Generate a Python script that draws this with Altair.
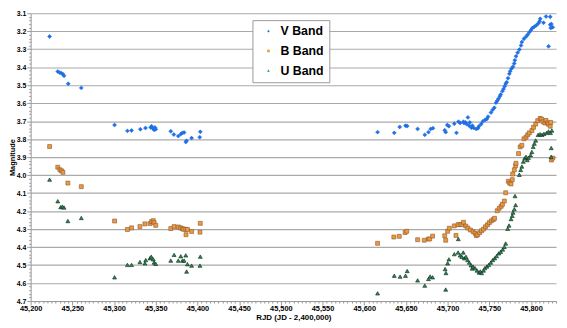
import altair as alt
import pandas as pd

# ---- data ----
v_x = [45222.7, 45232.5, 45234.8, 45236.8, 45238.7, 45240, 45245, 45260.7,
       45300.6, 45316, 45321, 45331.5, 45337.7, 45344, 45345, 45347, 45348, 45349, 45350,
       45368, 45371.7, 45377, 45380, 45382, 45384, 45386, 45387, 45393, 45402.7, 45403.4,
       45616, 45636, 45642.5, 45649.5, 45651.5, 45664, 45672.6, 45677, 45679.7, 45682.4,
       45696.5, 45697.7, 45699.6, 45701.5, 45708, 45710.6, 45713, 45715, 45719, 45719.5,
       45721.5, 45722.7, 45724.3, 45725.8, 45726.6, 45728.5, 45729.7, 45731.3, 45734.4,
       45736.4, 45737.6, 45740.3, 45742.3, 45745, 45747, 45748.5, 45752, 45754, 45756,
       45758, 45759.5, 45761, 45762.6, 45763.7, 45765.7, 45767, 45768.4, 45769.6, 45770.8,
       45772.4, 45774, 45775, 45776.6, 45778.3, 45779.8, 45780.6, 45782, 45784, 45786,
       45788, 45789, 45791.5, 45794, 45796, 45798, 45800, 45801.7, 45804, 45806.4,
       45808.8, 45810.3, 45811, 45815, 45818, 45821, 45823, 45823.6, 45824.4, 45826, 45823]
v_y = [3.229, 3.424, 3.430, 3.433, 3.439, 3.448, 3.492, 3.515,
       3.721, 3.754, 3.752, 3.745, 3.738, 3.735, 3.728, 3.742, 3.748, 3.735, 3.745,
       3.756, 3.774, 3.783, 3.772, 3.765, 3.763, 3.816, 3.809, 3.794, 3.789, 3.759,
       3.761, 3.765, 3.732, 3.725, 3.727, 3.743, 3.776, 3.761, 3.743, 3.739,
       3.750, 3.761, 3.721, 3.728, 3.714, 3.765, 3.703, 3.710, 3.703, 3.710,
       3.707, 3.716, 3.679, 3.725, 3.707, 3.736, 3.725, 3.738, 3.743,
       3.739, 3.728, 3.716, 3.701, 3.692, 3.688, 3.675, 3.652, 3.637, 3.625,
       3.597, 3.586, 3.575, 3.561, 3.552, 3.533, 3.521, 3.506, 3.492, 3.483,
       3.461, 3.437, 3.422, 3.408, 3.397, 3.379, 3.361, 3.339, 3.319, 3.302,
       3.279, 3.260, 3.242, 3.230, 3.219, 3.205, 3.193, 3.182, 3.175, 3.167,
       3.156, 3.145, 3.131, 3.153, 3.118, 3.284, 3.120, 3.182, 3.160, 3.178, 3.164]

b_x = [45222.7, 45232.5, 45235, 45237, 45238.7, 45244.6, 45260.7,
       45300.6, 45316, 45321, 45331, 45337, 45343, 45345, 45347, 45348, 45350,
       45368, 45372, 45377, 45380, 45382, 45383.5, 45386, 45388, 45386.3, 45393, 45403, 45403.4,
       45616, 45635.5, 45642, 45649, 45651, 45664, 45672, 45677, 45678.5, 45682,
       45696.5, 45697.7, 45700, 45702, 45708, 45710, 45712.5, 45715, 45717, 45719,
       45721.8, 45724.2, 45727.3, 45730.5, 45732.9, 45734.4, 45736, 45738.4, 45740.7,
       45743, 45745.4, 45747.8, 45750, 45752.5, 45754.8, 45756.3, 45759.5, 45761.8,
       45764.2, 45765.7, 45768, 45769.6, 45772.8, 45774.4, 45776, 45777.5, 45778,
       45780, 45781.5, 45782, 45785, 45787, 45789, 45791.5, 45794, 45796, 45798,
       45801, 45803, 45805.6, 45808, 45811, 45812.7, 45814.3, 45816.6, 45818,
       45819.7, 45821, 45823, 45824.4, 45823.6, 45826]
b_y = [3.841, 3.956, 3.970, 3.976, 3.984, 4.044, 4.064,
       4.255, 4.302, 4.293, 4.286, 4.271, 4.269, 4.258, 4.253, 4.264, 4.279,
       4.297, 4.286, 4.288, 4.293, 4.298, 4.301, 4.301, 4.302, 4.331, 4.313, 4.317, 4.268,
       4.379, 4.344, 4.340, 4.319, 4.312, 4.359, 4.362, 4.355, 4.355, 4.339,
       4.337, 4.362, 4.312, 4.295, 4.282, 4.335, 4.275, 4.275, 4.275, 4.262,
       4.283, 4.294, 4.305, 4.314, 4.323, 4.336, 4.331, 4.320, 4.309,
       4.300, 4.287, 4.276, 4.264, 4.254, 4.247, 4.240, 4.198, 4.184,
       4.173, 4.162, 4.144, 4.098, 4.034, 4.044, 4.049, 4.025, 3.994,
       3.970, 3.947, 3.934, 3.880, 3.843, 3.834, 3.798, 3.789, 3.776, 3.765,
       3.752, 3.734, 3.716, 3.697, 3.685, 3.689, 3.703, 3.710, 3.696,
       3.710, 3.717, 3.728, 3.916, 3.707, 3.905]

u_x = [45222.7, 45232.5, 45236, 45238, 45240, 45244.6, 45260.7,
       45300.6, 45316, 45321, 45331, 45337, 45338, 45343, 45344.6, 45347, 45348, 45350,
       45368, 45372, 45377, 45380, 45382, 45384, 45386, 45388, 45387, 45393, 45403, 45403.4,
       45616, 45636, 45643, 45649.5, 45651.5, 45664, 45672.6, 45677, 45679, 45682,
       45697, 45698, 45697.7, 45700, 45701.5, 45708, 45712.5, 45715, 45717, 45718.7,
       45720, 45722, 45724, 45726, 45728, 45729.5, 45712.8,
       45730.5, 45732.9, 45735.2, 45737.6, 45739.2, 45740.7, 45743, 45744.6, 45747,
       45749.3, 45751.7, 45754, 45756.4, 45758.7, 45761.2, 45763.6, 45766, 45768,
       45769.6, 45772, 45773.6, 45776, 45777.5, 45778.4, 45780, 45781.5, 45780.8,
       45786, 45787.6, 45789, 45790.7, 45792.4, 45794, 45795.5, 45797, 45799.5, 45801,
       45802.6, 45804, 45805.6, 45808.5, 45810.8, 45813.2, 45815.5, 45818.6, 45821,
       45823.3, 45825, 45824.2, 45824.2]
u_y = [4.025, 4.145, 4.178, 4.175, 4.180, 4.255, 4.238,
       4.568, 4.499, 4.499, 4.483, 4.490, 4.472, 4.462, 4.453, 4.468, 4.486, 4.493,
       4.475, 4.443, 4.475, 4.451, 4.475, 4.475, 4.446, 4.495, 4.536, 4.503, 4.503, 4.453,
       4.657, 4.559, 4.564, 4.559, 4.533, 4.585, 4.614, 4.577, 4.563, 4.568,
       4.522, 4.544, 4.636, 4.490, 4.468, 4.439, 4.430, 4.446, 4.454, 4.430,
       4.462, 4.454, 4.472, 4.486, 4.501, 4.519, 4.355,
       4.508, 4.517, 4.530, 4.541, 4.535, 4.544, 4.530, 4.517, 4.508,
       4.499, 4.486, 4.472, 4.462, 4.450, 4.435, 4.426, 4.413, 4.399,
       4.380, 4.298, 4.280, 4.244, 4.226, 4.208, 4.189, 4.166, 4.116,
       3.998, 3.971, 3.952, 3.925, 3.907, 3.898, 3.916, 3.903, 3.889, 3.871,
       3.843, 3.825, 3.807, 3.776, 3.772, 3.776, 3.770, 3.765, 3.757,
       3.765, 3.752, 3.849, 3.898]

bands = ["V Band", "B Band", "U Band"]
fills = ["#1f6fe5", "#ec9a3c", "#2c8a55"]
strokes = ["#1f6fe5", "#8a5530", "#0b2616"]
shapes = ["diamond", "square", "triangle-up"]

x_minor = list(range(45200, 45831, 5))
y_minor = [round(3.1 + 0.02 * i, 2) for i in range(81)]

rows = []
for name, xs, ys in [("V Band", v_x, v_y), ("B Band", b_x, b_y), ("U Band", u_x, u_y)]:
    for a, b in zip(xs, ys):
        rows.append({"rjd": a, "mag": b, "band": name})
df = pd.DataFrame(rows)

ymaj = "abs(datum.value*10 - round(datum.value*10)) < 0.001"
xmaj = "datum.value % 50 == 0"

leg = dict(title=None, orient="none", legendX=225, legendY=7, symbolSize=7,
           symbolStrokeWidth=0)

chart = alt.Chart(df).mark_point(filled=True, strokeWidth=0.6, opacity=1).encode(
    x=alt.X("rjd:Q",
            scale=alt.Scale(domain=[45200, 45830], nice=False, zero=False),
            axis=alt.Axis(values=x_minor, grid=False, title="RJD (JD - 2,400,000)",
                          labelExpr=f"{xmaj} ? format(datum.value, ',') : ''",
                          labelOverlap=False, labelFlush=False,
                          tickSize={"condition": {"test": xmaj, "value": 4}, "value": 2},
                          labelPadding=0, titlePadding=1)),
    y=alt.Y("mag:Q",
            scale=alt.Scale(domain=[3.1, 4.7], reverse=True, nice=False, zero=False),
            axis=alt.Axis(values=y_minor, title="Magnitude",
                          labelExpr=f"{ymaj} ? format(datum.value, '.1f') : ''",
                          labelOverlap=False,
                          gridOpacity={"condition": {"test": ymaj, "value": 1}, "value": 0},
                          tickSize={"condition": {"test": ymaj, "value": 4}, "value": 2},
                          labelPadding=1, titleX=-18, titleY=146, titleAngle=270,
                          titleBaseline="middle", titleAlign="center")),
    color=alt.Color("band:N", scale=alt.Scale(domain=bands, range=fills),
                    legend=alt.Legend(**leg)),
    shape=alt.Shape("band:N", scale=alt.Scale(domain=bands, range=shapes),
                    legend=alt.Legend(**leg)),
    stroke=alt.Stroke("band:N", scale=alt.Scale(domain=bands, range=strokes), legend=None),
    size=alt.value(16),
).properties(
    width=533, height=292,
    padding={"left": 23, "top": 3, "right": 3, "bottom": 25},
    autosize=alt.AutoSizeParams(type="none"),
).configure_view(strokeWidth=0).configure_axis(
    labelFont="Liberation Sans", labelFontSize=7, labelFontWeight="bold", labelColor="#000",
    titleFont="Liberation Sans", titleFontSize=7.5, titleFontWeight="bold", titleColor="#000",
    domainColor="#999", tickColor="#999", gridColor="#aaa", gridWidth=1.1,
).configure_axisX(labelFontSize=7.5, titleFontSize=8).configure_legend(
    fillColor="white", strokeColor="#999", padding=5, symbolOffset=5,
    labelFont="Liberation Sans", labelFontSize=12.5, labelFontWeight="bold", labelColor="#000",
    rowPadding=7, labelOffset=6,
)

chart.save("out.html", embed_options={"renderer": "svg", "actions": False})
